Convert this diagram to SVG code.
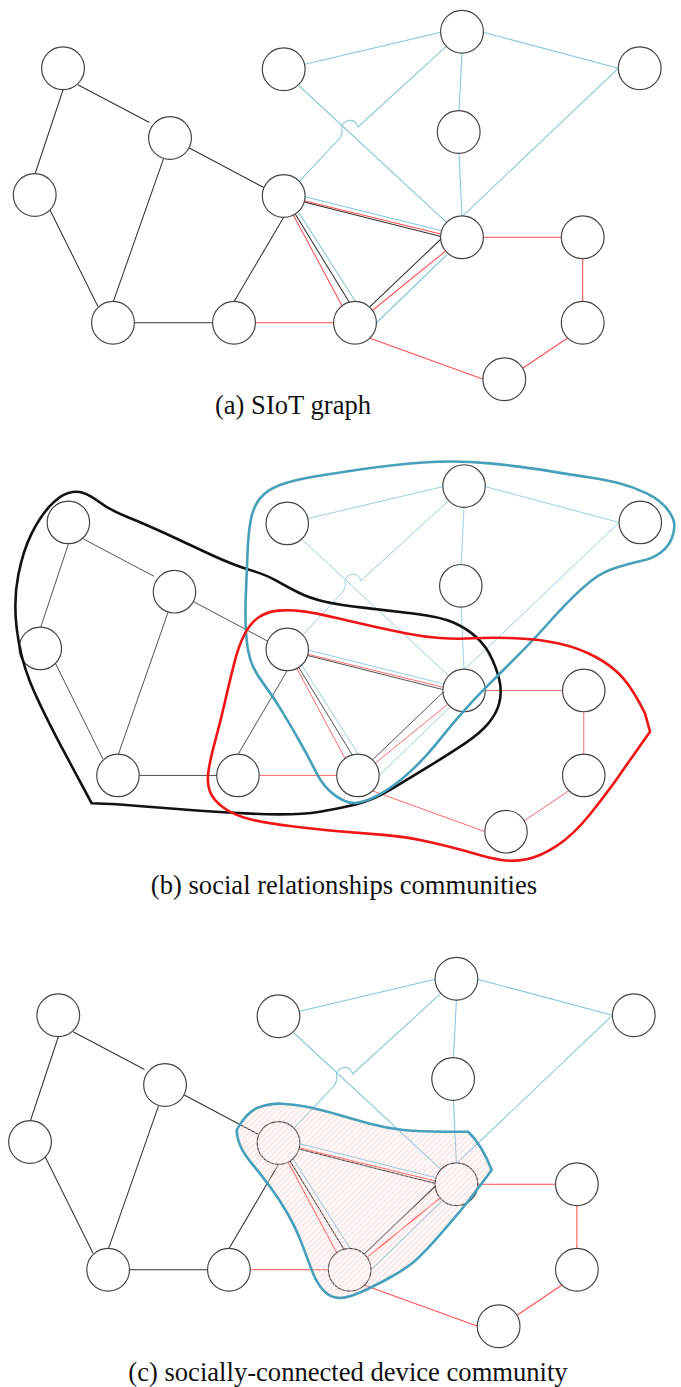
<svg xmlns="http://www.w3.org/2000/svg" width="681" height="1387" viewBox="0 0 681 1387">
  <style>
    .node circle { fill: #fff; stroke: #444; stroke-width: 1.2; }
    .connectors line, .connectors path { fill: none; stroke-width: 1.05; stroke-linecap: round; }
    .k { stroke: #333; }
    .r { stroke: #ff4f4f; }
    .b { stroke: #86c5da; }
    .thin line, .thin path { stroke-width: 0.85; }
    .caption { font-family: "Liberation Serif", "Times New Roman", serif; font-size: 26.6px; fill: #111; text-anchor: middle; }
    .blob { fill: none; stroke-width: 2.6; stroke-linejoin: round; }
  </style>
  <defs>
    <pattern id="hatch" patternUnits="userSpaceOnUse" width="4" height="4" patternTransform="rotate(45)">
      <line x1="1" y1="0" x2="1" y2="4" stroke="#f6cfcb" stroke-width="1"/>
    </pattern>
  </defs>

  <rect width="681" height="1387" fill="#fff"/>

  <!-- ===== (a) SIoT graph ===== -->
  <g id="panel-a">
    <g id="a-connectors" class="connectors">
      <line class="k" x1="78.3" y1="85" x2="149" y2="122.3"/>
      <line class="k" x1="63" y1="90" x2="35" y2="174"/>
      <line class="k" x1="50" y1="210" x2="97.7" y2="306"/>
      <line class="k" x1="163.3" y1="159.3" x2="113.3" y2="301.7"/>
      <line class="k" x1="189.3" y1="148" x2="263.3" y2="187.3"/>
      <line class="k" x1="134.7" y1="322.7" x2="212.7" y2="322.7"/>
      <line class="k" x1="234" y1="301.7" x2="283.7" y2="217.3"/>
      <line class="b" x1="305" y1="64.3" x2="440.7" y2="32.3"/>
      <line class="b" x1="483.3" y1="32.3" x2="618.3" y2="68.3"/>
      <line class="b" x1="462" y1="52.7" x2="459" y2="111"/>
      <line class="b" x1="459" y1="153.3" x2="462" y2="216.7"/>
      <line class="b" x1="618.3" y1="68.3" x2="462" y2="216.7"/>
      <line class="b" x1="299.3" y1="86" x2="446.7" y2="222.7"/>
      <path class="b" d="M446 46.7 L358 127 A8.2 8.2 0 1 0 342.3 131.5 L340.5 137.5 L299 181.7"/>
      <line class="b" x1="305" y1="196.7" x2="441.7" y2="230.7"/>
      <line class="r" x1="305" y1="201" x2="440.7" y2="234"/>
      <line class="k" x1="305" y1="202.3" x2="440" y2="236.2"/>
      <line class="r" x1="293.3" y1="215" x2="342" y2="305.7"/>
      <line class="k" x1="295.2" y1="214" x2="349.3" y2="302.3"/>
      <line class="b" x1="298.3" y1="211.7" x2="356" y2="302.3"/>
      <line class="k" x1="370" y1="306.7" x2="441.5" y2="238.5"/>
      <line class="r" x1="371.7" y1="311" x2="445" y2="251.5"/>
      <line class="b" x1="376.7" y1="322.5" x2="446.7" y2="255"/>
      <line class="r" x1="255.3" y1="322.7" x2="334" y2="322.7"/>
      <line class="r" x1="483.3" y1="237.3" x2="561.3" y2="237.3"/>
      <line class="r" x1="582.7" y1="258.7" x2="582.7" y2="301.7"/>
      <line class="r" x1="567.3" y1="338.3" x2="522.7" y2="368.3"/>
      <line class="r" x1="370" y1="338.3" x2="483.3" y2="379.3"/>
    </g>
    <g id="a-n1" class="node"><circle cx="63" cy="68.3" r="21.4"/></g>
    <g id="a-n2" class="node"><circle cx="170" cy="138" r="21.4"/></g>
    <g id="a-n3" class="node"><circle cx="34.7" cy="195" r="21.4"/></g>
    <g id="a-n4" class="node"><circle cx="113" cy="322.7" r="21.4"/></g>
    <g id="a-n5" class="node"><circle cx="234" cy="322.7" r="21.4"/></g>
    <g id="a-n6" class="node"><circle cx="283.7" cy="196" r="21.4"/></g>
    <g id="a-n7" class="node"><circle cx="355" cy="322.7" r="21.4"/></g>
    <g id="a-n8" class="node"><circle cx="283.7" cy="69.3" r="21.4"/></g>
    <g id="a-n9" class="node"><circle cx="462" cy="31.7" r="21.4"/></g>
    <g id="a-n10" class="node"><circle cx="639.7" cy="68.3" r="21.4"/></g>
    <g id="a-n11" class="node"><circle cx="458.7" cy="132" r="21.4"/></g>
    <g id="a-n12" class="node"><circle cx="462" cy="237.3" r="21.4"/></g>
    <g id="a-n13" class="node"><circle cx="582.7" cy="237.3" r="21.4"/></g>
    <g id="a-n14" class="node"><circle cx="582.7" cy="322.7" r="21.4"/></g>
    <g id="a-n15" class="node"><circle cx="504.3" cy="379.3" r="21.4"/></g>
    <text class="caption" x="293" y="414">(a) SIoT graph</text>
  </g>

  <!-- ===== (b) social relationships communities ===== -->
  <g id="panel-b">
    <g transform="matrix(0.9917 0 0 0.9945 5.9 454.5)">
      <g id="b-connectors" class="connectors thin">
        <line class="k" x1="78.3" y1="85" x2="149" y2="122.3"/>
        <line class="k" x1="63" y1="90" x2="35" y2="174"/>
        <line class="k" x1="50" y1="210" x2="97.7" y2="306"/>
        <line class="k" x1="163.3" y1="159.3" x2="113.3" y2="301.7"/>
        <line class="k" x1="189.3" y1="148" x2="263.3" y2="187.3"/>
        <line class="k" x1="134.7" y1="322.7" x2="212.7" y2="322.7"/>
        <line class="k" x1="234" y1="301.7" x2="283.7" y2="217.3"/>
        <line class="b" x1="305" y1="64.3" x2="440.7" y2="32.3"/>
        <line class="b" x1="483.3" y1="32.3" x2="618.3" y2="68.3"/>
        <line class="b" x1="462" y1="52.7" x2="459" y2="111"/>
        <line class="b" x1="459" y1="153.3" x2="462" y2="216.7"/>
        <line class="b" x1="618.3" y1="68.3" x2="462" y2="216.7"/>
        <line class="b" x1="299.3" y1="86" x2="446.7" y2="222.7"/>
        <path class="b" d="M446 46.7 L358 127 A8.2 8.2 0 1 0 342.3 131.5 L340.5 137.5 L299 181.7"/>
        <line class="b" x1="305" y1="196.7" x2="441.7" y2="230.7"/>
        <line class="r" x1="305" y1="201" x2="440.7" y2="234"/>
        <line class="k" x1="305" y1="202.3" x2="440" y2="236.2"/>
        <line class="r" x1="293.3" y1="215" x2="342" y2="305.7"/>
        <line class="k" x1="295.2" y1="214" x2="349.3" y2="302.3"/>
        <line class="b" x1="298.3" y1="211.7" x2="356" y2="302.3"/>
        <line class="k" x1="370" y1="306.7" x2="441.5" y2="238.5"/>
        <line class="r" x1="371.7" y1="311" x2="445" y2="251.5"/>
        <line class="b" x1="376.7" y1="322.5" x2="446.7" y2="255"/>
        <line class="r" x1="255.3" y1="322.7" x2="334" y2="322.7"/>
        <line class="r" x1="483.3" y1="237.3" x2="561.3" y2="237.3"/>
        <line class="r" x1="582.7" y1="258.7" x2="582.7" y2="301.7"/>
        <line class="r" x1="567.3" y1="338.3" x2="522.7" y2="368.3"/>
        <line class="r" x1="370" y1="338.3" x2="483.3" y2="379.3"/>
      </g>
      <g id="b-n1" class="node"><circle cx="63" cy="68.3" r="21.4"/></g>
      <g id="b-n2" class="node"><circle cx="170" cy="138" r="21.4"/></g>
      <g id="b-n3" class="node"><circle cx="34.7" cy="195" r="21.4"/></g>
      <g id="b-n4" class="node"><circle cx="113" cy="322.7" r="21.4"/></g>
      <g id="b-n5" class="node"><circle cx="234" cy="322.7" r="21.4"/></g>
      <g id="b-n6" class="node"><circle cx="283.7" cy="196" r="21.4"/></g>
      <g id="b-n7" class="node"><circle cx="355" cy="322.7" r="21.4"/></g>
      <g id="b-n8" class="node"><circle cx="283.7" cy="69.3" r="21.4"/></g>
      <g id="b-n9" class="node"><circle cx="462" cy="31.7" r="21.4"/></g>
      <g id="b-n10" class="node"><circle cx="639.7" cy="68.3" r="21.4"/></g>
      <g id="b-n11" class="node"><circle cx="458.7" cy="132" r="21.4"/></g>
      <g id="b-n12" class="node"><circle cx="462" cy="237.3" r="21.4"/></g>
      <g id="b-n13" class="node"><circle cx="582.7" cy="237.3" r="21.4"/></g>
      <g id="b-n14" class="node"><circle cx="582.7" cy="322.7" r="21.4"/></g>
      <g id="b-n15" class="node"><circle cx="504.3" cy="379.3" r="21.4"/></g>
    </g>
    <!-- community outlines -->
    <g id="b-communities">
      <path id="community-black" class="blob" stroke="#111" d="M91.7 803.3 L66.7 756.7 Q40 706.7 30 681.7 Q20 656.7 16.7 628.4 Q13.3 600 18.3 575 Q23.3 550 31.7 533.4 Q40 516.7 50 505.9 Q60 495 68.4 492.9 Q76.7 490.7 83.4 492.9 Q90 495 100 502.5 Q110 510 126.7 516.7 Q143.3 523.3 165 533.3 Q186.7 543.3 210 554.2 Q233.3 565 250 570 Q266.7 575 276.7 580.9 Q286.7 586.7 298.4 592.5 Q310 598.3 325 601.7 Q340 605 365 607.9 Q390 610.7 415 613.7 Q440 616.7 453.4 622.5 Q466.7 628.3 476.7 637.5 Q486.7 646.7 492.5 660 Q498.3 673.3 500 683.3 Q501.7 693.3 499.2 703.3 Q496.7 713.3 488.4 723.3 Q480 733.3 465 743.3 Q450 753.3 428.4 766.7 Q406.7 780 390 790 Q373.3 800 356.7 804.2 Q340 808.3 320 811.7 Q300 815 266.7 814.2 Q233.3 813.3 200 810.8 Q166.7 808.3 141.7 806.2 Q116.7 804 91.7 803.3 Z"/>
      <path id="community-blue" class="blob" stroke="#46a0b9" d="M313.3 476.7 Q333.3 473.3 361.7 469.2 Q390 465 423.4 462.5 Q456.7 460 490 463.4 Q523.3 466.7 548.3 470.9 Q573.3 475 590 477.5 Q606.7 480 620 483.4 Q633.3 486.7 646.7 493.4 Q660 500 666.7 508.4 Q673.3 516.7 674.2 523.4 Q675 530 671.7 538.4 Q668.3 546.7 660.8 552.5 Q653.3 558.3 641.7 560.8 Q630 563.3 616.7 567.5 Q603.3 571.7 593.3 579.2 Q583.3 586.7 571.7 598.4 Q560 610 546.7 625 Q533.3 640 516.7 656.7 Q500 673.3 486.7 686.7 Q473.3 700 461.7 713.4 Q450 726.7 436.7 743.4 Q423.3 760 408.3 773.4 Q393.3 786.7 380 794.2 Q366.7 801.7 356.7 802.9 Q346.7 804 335 795.4 Q323.3 786.7 316.7 773.4 Q310 760 301.7 745 Q293.3 730 283.3 713.4 Q273.3 696.7 263.3 683.4 Q253.3 670 250 658.4 Q246.7 646.7 245.9 630 Q245 613.3 245.9 593.3 Q246.7 573.3 247.5 553.3 Q248.3 533.3 250.8 520 Q253.3 506.7 260 498.4 Q266.7 490 280 485 Q293.3 480 313.3 476.7 Z"/>
      <path id="community-red" class="blob" stroke="#f01414" d="M650 731.7 L645 713.3 Q633.3 690 623.3 678.4 Q613.3 666.7 596.7 657.5 Q580 648.3 560 643.7 Q540 639 515 638.2 Q490 637.3 473.4 638.3 Q456.7 639.3 440 638 Q423.3 636.7 406.7 633.4 Q390 630 373.4 626.4 Q356.7 622.7 336.7 618 Q316.7 613.3 303.4 611.4 Q290 609.5 278.4 610.6 Q266.7 611.7 258.4 617.5 Q250 623.3 244.2 635 Q238.3 646.7 234.2 663.4 Q230 680 225 701.7 Q220 723.3 215 741.7 Q210 760 208.4 771.7 Q206.7 783.3 210 791.7 Q213.3 800 223.3 807.5 Q233.3 815 250 819.2 Q266.7 823.3 291.7 826.3 Q316.7 829.3 338.4 831.2 Q360 833 383.4 834.9 Q406.7 836.7 431.7 842.5 Q456.7 848.3 473.4 853.3 Q490 858.3 501.7 860 Q513.3 861.7 526.7 859.2 Q540 856.7 556.7 845.9 Q573.3 835 590 814.2 Q606.7 793.3 618.4 776.7 Q630 760 650 731.7 Z"/>
    </g>
    <text class="caption" x="344" y="894">(b) social relationships communities</text>
  </g>

  <!-- ===== (c) socially-connected device community ===== -->
  <g id="panel-c">
    <g transform="matrix(0.9979 0 0 1 -4.6 947)">
      <g id="c-connectors" class="connectors">
        <line class="k" x1="78.3" y1="85" x2="149" y2="122.3"/>
        <line class="k" x1="63" y1="90" x2="35" y2="174"/>
        <line class="k" x1="50" y1="210" x2="97.7" y2="306"/>
        <line class="k" x1="163.3" y1="159.3" x2="113.3" y2="301.7"/>
        <line class="k" x1="189.3" y1="148" x2="263.3" y2="187.3"/>
        <line class="k" x1="134.7" y1="322.7" x2="212.7" y2="322.7"/>
        <line class="k" x1="234" y1="301.7" x2="283.7" y2="217.3"/>
        <line class="b" x1="305" y1="64.3" x2="440.7" y2="32.3"/>
        <line class="b" x1="483.3" y1="32.3" x2="618.3" y2="68.3"/>
        <line class="b" x1="462" y1="52.7" x2="459" y2="111"/>
        <line class="b" x1="459" y1="153.3" x2="462" y2="216.7"/>
        <line class="b" x1="618.3" y1="68.3" x2="462" y2="216.7"/>
        <line class="b" x1="299.3" y1="86" x2="446.7" y2="222.7"/>
        <path class="b" d="M446 46.7 L358 127 A8.2 8.2 0 1 0 342.3 131.5 L340.5 137.5 L299 181.7"/>
        <line class="b" x1="305" y1="196.7" x2="441.7" y2="230.7"/>
        <line class="r" x1="305" y1="201" x2="440.7" y2="234"/>
        <line class="k" x1="305" y1="202.3" x2="440" y2="236.2"/>
        <line class="r" x1="293.3" y1="215" x2="342" y2="305.7"/>
        <line class="k" x1="295.2" y1="214" x2="349.3" y2="302.3"/>
        <line class="b" x1="298.3" y1="211.7" x2="356" y2="302.3"/>
        <line class="k" x1="370" y1="306.7" x2="441.5" y2="238.5"/>
        <line class="r" x1="371.7" y1="311" x2="445" y2="251.5"/>
        <line class="b" x1="376.7" y1="322.5" x2="446.7" y2="255"/>
        <line class="r" x1="255.3" y1="322.7" x2="334" y2="322.7"/>
        <line class="r" x1="483.3" y1="237.3" x2="561.3" y2="237.3"/>
        <line class="r" x1="582.7" y1="258.7" x2="582.7" y2="301.7"/>
        <line class="r" x1="567.3" y1="338.3" x2="522.7" y2="368.3"/>
        <line class="r" x1="370" y1="338.3" x2="483.3" y2="379.3"/>
      </g>
      <g id="c-n1" class="node"><circle cx="63" cy="68.3" r="21.4"/></g>
      <g id="c-n2" class="node"><circle cx="170" cy="138" r="21.4"/></g>
      <g id="c-n3" class="node"><circle cx="34.7" cy="195" r="21.4"/></g>
      <g id="c-n4" class="node"><circle cx="113" cy="322.7" r="21.4"/></g>
      <g id="c-n5" class="node"><circle cx="234" cy="322.7" r="21.4"/></g>
      <g id="c-n6" class="node"><circle cx="283.7" cy="196" r="21.4"/></g>
      <g id="c-n7" class="node"><circle cx="355" cy="322.7" r="21.4"/></g>
      <g id="c-n8" class="node"><circle cx="283.7" cy="69.3" r="21.4"/></g>
      <g id="c-n9" class="node"><circle cx="462" cy="31.7" r="21.4"/></g>
      <g id="c-n10" class="node"><circle cx="639.7" cy="68.3" r="21.4"/></g>
      <g id="c-n11" class="node"><circle cx="458.7" cy="132" r="21.4"/></g>
      <g id="c-n12" class="node"><circle cx="462" cy="237.3" r="21.4"/></g>
      <g id="c-n13" class="node"><circle cx="582.7" cy="237.3" r="21.4"/></g>
      <g id="c-n14" class="node"><circle cx="582.7" cy="322.7" r="21.4"/></g>
      <g id="c-n15" class="node"><circle cx="504.3" cy="379.3" r="21.4"/></g>
    </g>
    <!-- hatched device community -->
    <g id="c-community">
      <path fill="url(#hatch)" stroke="none" d="M236.7 1130 Q246.7 1111.7 258.4 1107.5 Q270 1103.3 281.7 1103.7 Q293.3 1104 306.7 1106.7 Q320 1109.3 336.7 1114.3 Q353.3 1119.3 370 1123.8 Q386.7 1128.3 403.4 1130 Q420 1131.7 444 1131.7 L468.3 1131.7 Q482 1145 491.7 1170 Q473.3 1195 461.7 1209.2 Q450 1223.3 436.7 1238.3 Q423.3 1253.3 415 1260.8 Q406.7 1268.3 390 1277.5 Q373.3 1286.7 360 1292.5 Q346.7 1298.3 338.4 1297.9 Q330 1297.5 323.4 1290.4 Q316.7 1283.3 311.7 1270 Q306.7 1256.7 301.7 1243.4 Q296.7 1230 288.4 1215 Q280 1200 270 1186.7 Q260 1173.3 251.7 1163.3 Q243.3 1153.3 240 1145 Q236.7 1136.7 236.7 1130 Z"/>
      <path class="blob" stroke="#46a0b9" d="M236.7 1130 Q246.7 1111.7 258.4 1107.5 Q270 1103.3 281.7 1103.7 Q293.3 1104 306.7 1106.7 Q320 1109.3 336.7 1114.3 Q353.3 1119.3 370 1123.8 Q386.7 1128.3 403.4 1130 Q420 1131.7 444 1131.7 L468.3 1131.7 Q482 1145 491.7 1170 Q473.3 1195 461.7 1209.2 Q450 1223.3 436.7 1238.3 Q423.3 1253.3 415 1260.8 Q406.7 1268.3 390 1277.5 Q373.3 1286.7 360 1292.5 Q346.7 1298.3 338.4 1297.9 Q330 1297.5 323.4 1290.4 Q316.7 1283.3 311.7 1270 Q306.7 1256.7 301.7 1243.4 Q296.7 1230 288.4 1215 Q280 1200 270 1186.7 Q260 1173.3 251.7 1163.3 Q243.3 1153.3 240 1145 Q236.7 1136.7 236.7 1130 Z"/>
    </g>
    <text class="caption" x="348" y="1381">(c) socially-connected device community</text>
  </g>
</svg>
